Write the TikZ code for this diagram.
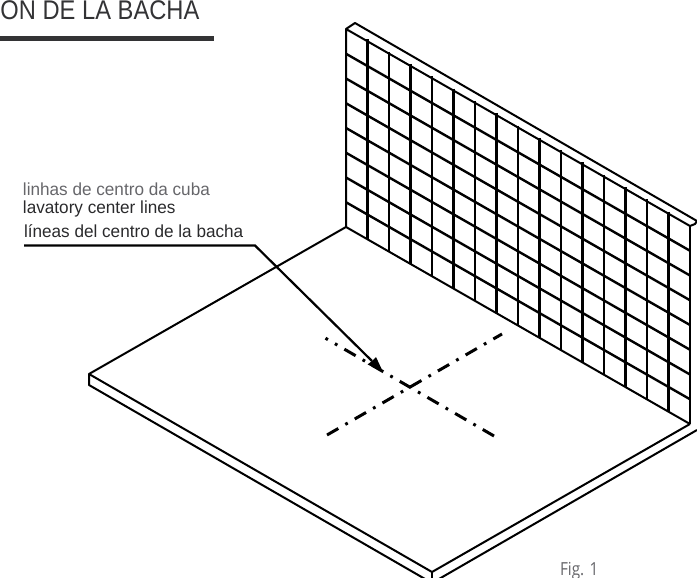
\documentclass[tikz,border=0pt]{standalone}
\usepackage{fontspec}
\setmainfont{Liberation Sans}
\newfontfamily\figfont{Open Sans}
\definecolor{inkdark}{HTML}{2A2A2C}
\definecolor{titleink}{HTML}{333335}
\definecolor{greyink}{HTML}{66666A}
\tikzset{
  outline/.style={draw=black,line width=2pt,line join=round},
  gridv/.style={draw=black,line width=2.5pt},
  gridh/.style={draw=black,line width=2.4pt},
  centerline/.style={draw=black,line width=3pt,dash pattern=on 13pt off 8.1pt on 2.8pt off 8.1pt},
  leader/.style={draw=black,line width=2.2pt,line join=miter},
  lbl/.style={inner sep=0pt,outer sep=0pt,anchor=base west},
}
\begin{document}
\begin{tikzpicture}[x=1pt,y=-1pt]
\useasboundingbox (0,0) rectangle (697,578);
\clip (0,0) rectangle (697,578);
% corners
\coordinate (wallTL) at (346,29);
\coordinate (wallBack) at (355,23);
\coordinate (wallBackR) at (697,221);
\coordinate (wallTipR) at (695,224);
\coordinate (wallTR) at (690,226);
\coordinate (wallBL) at (346,227);
\coordinate (wallBR) at (690,424);
\coordinate (floorL) at (89,374);
\coordinate (floorLd) at (89,385);
\coordinate (floorF) at (432,572);
\coordinate (floorFd) at (432,583);
\coordinate (floorRd) at (697,430);
% grid
\foreach \i in {1,...,15}{
  \pgfmathsetmacro{\xx}{346+21.5*\i}
  \pgfmathsetmacro{\yt}{29+21.5*\i*0.5727-2}
  \pgfmathsetmacro{\yb}{227+21.5*\i*0.5727}
  \draw[gridv] (\xx,\yt) -- (\xx,\yb);
}
\draw[gridv,line width=3.4pt] (496.5,113) -- (496.5,313);
\foreach \j in {1,...,7}{
  \pgfmathsetmacro{\ya}{29+24.75*\j}
  \pgfmathsetmacro{\yz}{29+24.75*\j+197}
  \draw[gridh] (346,\ya) -- (690,\yz);
}
% wall outline
\draw[outline] (wallBL) -- (wallTL) -- (wallBack) -- (wallBackR) -- (wallTipR) -- (wallTR) -- (wallTL);
\draw[outline,line width=2.4pt] (wallTR) -- (wallBR);
% floor
\draw[outline] (wallBR) -- (wallBL) -- (floorL) -- (floorF) -- (wallBR);
\draw[outline] (floorL) -- (floorLd) -- (floorFd) -- (floorRd);
\draw[outline] (floorF) -- (floorFd);
% centre lines
\coordinate (cA1) at (502,334);
\coordinate (cA2) at (327,435);
\coordinate (cB1) at (494,436);
\coordinate (cB2) at (325.5,338.2);
\draw[centerline,dash phase=3pt] (cA1) -- (cA2);
\draw[centerline] (cB1) -- (cB2);
% title
\node[lbl,text=titleink] (title) at (0.5,20) {\scalebox{0.878}[1]{\fontsize{27}{27}\selectfont ON DE LA BACHA}};
\coordinate (ruleL) at (0,38.5);
\coordinate (ruleR) at (214,38.5);
\draw[draw=titleink,line width=4.6pt] (ruleL) -- (ruleR);
% labels
\node[lbl,text=greyink] (pt) at (23,195) {\scalebox{0.98}[1]{\fontsize{17.5}{17.5}\selectfont linhas de centro da cuba}};
\node[lbl,text=inkdark] (en) at (23,213) {\scalebox{0.98}[1]{\fontsize{17.5}{17.5}\selectfont lavatory center lines}};
\node[lbl,text=inkdark] (es) at (24,237.5) {\scalebox{0.98}[1]{\fontsize{17.5}{17.5}\selectfont líneas del centro de la bacha}};
\node[lbl,text=greyink] (fig) at (560,575) {\scalebox{0.85}[1]{\figfont\fontsize{18}{18}\selectfont Fig. 1}};
% leader
\coordinate (ldA) at (24,245.5);
\coordinate (ldB) at (255,245.5);
\coordinate (ldC) at (372,361);
\coordinate (tip) at (383,372);
\coordinate (hdL) at (367.5,364.5);
\coordinate (hdR) at (376,357);
\draw[leader] (ldA) -- (ldB) -- (ldC);
\fill[black] (tip) -- (hdL) -- (ldC) -- (hdR) -- cycle;
\end{tikzpicture}
\end{document}
